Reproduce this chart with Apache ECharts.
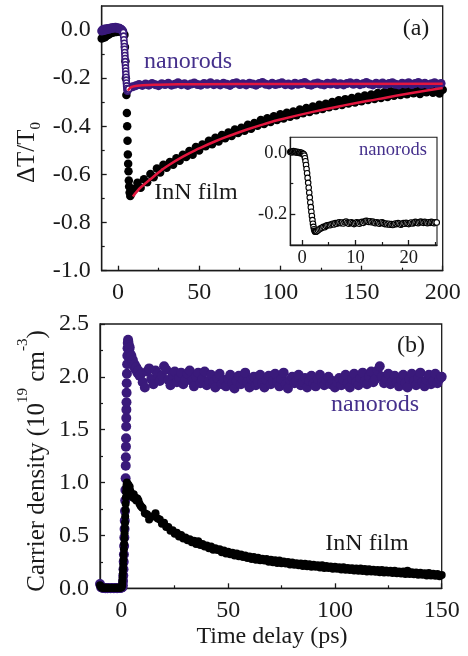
<!DOCTYPE html>
<html>
<head>
<meta charset="utf-8">
<title>InN film vs nanorods</title>
<script src="https://cdn.jsdelivr.net/npm/echarts@6/dist/echarts.min.js"></script>
<style>
  html, body { margin: 0; padding: 0; background: #fff; }
  #chart { width: 468px; height: 656px; }
</style>
</head>
<body>
<div id="chart"></div>
<script>
// ---- panel (a): ΔT/T0 ----
var aFilmPreT = [-10, -9, -8, -7, -6, -5, -4, -3, -2, -1, 0, 1, 2, 3];
var aFilmPreV = [-0.035, -0.032, -0.03, -0.024, -0.02, -0.015, -0.012, -0.01, -0.008, -0.008, -0.006, -0.006, -0.005, -0.008];
var aFilmDropT = [4.0, 4.3, 4.6, 4.9, 5.2, 5.5, 5.7, 5.9, 6.1, 6.3, 6.5, 6.7, 6.9, 7.2, 7.6, 8.2, 9.0];
var aFilmDropV = [-0.02, -0.07, -0.13, -0.2, -0.27, -0.345, -0.40, -0.46, -0.517, -0.556, -0.587, -0.625, -0.65, -0.675, -0.69, -0.68, -0.665];
// t = 10 .. 200, every 2 ps
var aFilmV = [
  -0.66, -0.635, -0.655, -0.62, -0.632, -0.598, -0.612, -0.575, -0.592, -0.56,
  -0.572, -0.548, -0.56, -0.533, -0.543, -0.518, -0.528, -0.503, -0.518, -0.486,
  -0.5, -0.476, -0.483, -0.46, -0.474, -0.448, -0.463, -0.436, -0.45, -0.426,
  -0.44, -0.413, -0.428, -0.406, -0.418, -0.393, -0.41, -0.386, -0.398, -0.374,
  -0.39, -0.366, -0.382, -0.358, -0.374, -0.35, -0.368, -0.344, -0.36, -0.338,
  -0.354, -0.33, -0.346, -0.324, -0.34, -0.318, -0.333, -0.31, -0.328, -0.306,
  -0.321, -0.299, -0.316, -0.292, -0.311, -0.287, -0.305, -0.282, -0.301, -0.277,
  -0.296, -0.272, -0.291, -0.268, -0.286, -0.262, -0.282, -0.258, -0.278, -0.254,
  -0.273, -0.249, -0.27, -0.245, -0.267, -0.241, -0.263, -0.239, -0.266, -0.237,
  -0.258, -0.233, -0.261, -0.237, -0.264, -0.248
];
// t = -10 .. 3, every 0.5 ps
var aRodPreV = [
  -0.004, 0.0, 0.003, -0.002, 0.002, 0.005, 0.001, 0.004, 0.006, 0.003,
  0.007, 0.009, 0.006, 0.01, 0.008, 0.011, 0.009, 0.012, 0.008, 0.01,
  0.007, 0.009, 0.006, 0.004, 0.003, 0.0, -0.005
];
var aRodDropT = [3.3, 3.5, 3.7, 3.9, 4.0, 4.1, 4.2, 4.3, 4.4, 4.5, 4.6, 4.7, 4.8, 4.9, 5.0, 5.1, 5.2, 5.35, 5.5, 5.7, 5.9, 6.2, 6.6];
var aRodDropV = [-0.01, -0.025, -0.04, -0.055, -0.068, -0.08, -0.093, -0.106, -0.118, -0.131, -0.144, -0.157, -0.17, -0.183, -0.196, -0.208, -0.22, -0.232, -0.243, -0.25, -0.254, -0.25, -0.245];
// t = 7 .. 199, every 2 ps
var aRodV = [
  -0.240, -0.236, -0.231, -0.226, -0.230, -0.224, -0.229, -0.222, -0.227, -0.231,
  -0.223, -0.226, -0.221, -0.229, -0.225, -0.219, -0.227, -0.223, -0.23, -0.224,
  -0.22, -0.226, -0.229, -0.222, -0.225, -0.219, -0.227, -0.223, -0.228, -0.221,
  -0.225, -0.23, -0.222, -0.219, -0.226, -0.223, -0.228, -0.221, -0.224, -0.229,
  -0.222, -0.218, -0.225, -0.228, -0.221, -0.226, -0.223, -0.219, -0.227, -0.224,
  -0.229, -0.221, -0.225, -0.222, -0.218, -0.226, -0.229, -0.223, -0.22, -0.225,
  -0.228, -0.221, -0.224, -0.219, -0.226, -0.223, -0.228, -0.222, -0.219, -0.225,
  -0.221, -0.227, -0.223, -0.218, -0.224, -0.228, -0.221, -0.225, -0.22, -0.226,
  -0.222, -0.219, -0.225, -0.228, -0.221, -0.224, -0.219, -0.226, -0.222, -0.218,
  -0.225, -0.221, -0.227, -0.223, -0.219, -0.225, -0.222
];
var aFilmFitT = [9.2, 12, 15, 20, 25, 30, 40, 50, 60, 70, 80, 90, 100, 120, 140, 160, 180, 200];
var aFilmFitV = [-0.692, -0.668, -0.648, -0.62, -0.592, -0.567, -0.526, -0.492, -0.462, -0.436, -0.412, -0.391, -0.372, -0.34, -0.312, -0.287, -0.263, -0.241];
var aRodFitT = [6.2, 7, 8, 9, 11, 15, 25, 50, 100, 200];
var aRodFitV = [-0.252, -0.244, -0.238, -0.235, -0.232, -0.229, -0.227, -0.225, -0.224, -0.223];

// ---- inset: nanorods, first 25 ps ----
// t = -2.2 .. 0.35, every 0.15 ps
var insPreV = [0.002, 0.004, 0.001, 0.003, 0.005, 0.002, 0.004, 0.001, 0.003, 0.0, 0.002, -0.001, 0.001, -0.002, 0.0, -0.003, -0.004, -0.006];
// t = 0.45 .. 2.65, every 0.1 ps
var insDropV = [-0.01, -0.018, -0.028, -0.04, -0.053, -0.067, -0.082, -0.098, -0.114, -0.13, -0.146, -0.162, -0.177, -0.192, -0.206, -0.219, -0.231, -0.241, -0.249, -0.254, -0.257, -0.257, -0.256];
// t = 2.75 .. 25.25, every 0.25 ps
var insV = [
  -0.255, -0.252, -0.249, -0.246, -0.244, -0.241, -0.242, -0.238, -0.236, -0.235,
  -0.236, -0.233, -0.231, -0.233, -0.229, -0.231, -0.228, -0.226, -0.229, -0.227,
  -0.23, -0.226, -0.224, -0.228, -0.231, -0.228, -0.226, -0.229, -0.232, -0.229,
  -0.226, -0.228, -0.231, -0.227, -0.225, -0.228, -0.224, -0.221, -0.222, -0.225,
  -0.223, -0.226, -0.224, -0.227, -0.229, -0.226, -0.228, -0.231, -0.228, -0.226,
  -0.229, -0.232, -0.23, -0.233, -0.231, -0.234, -0.232, -0.235, -0.233, -0.23,
  -0.232, -0.229, -0.231, -0.234, -0.232, -0.229, -0.231, -0.228, -0.23, -0.232,
  -0.229, -0.227, -0.23, -0.228, -0.225, -0.227, -0.229, -0.226, -0.224, -0.226,
  -0.228, -0.225, -0.227, -0.229, -0.226, -0.228, -0.225, -0.227, -0.229, -0.226,
  -0.227
];

// ---- panel (b): carrier density (1e19 cm^-3) ----
// t = -10 .. 0, every 0.5 ps
var bFilmPreV = [0.03, 0.012, 0.006, 0.004, 0.008, 0.003, 0.005, 0.002, 0.006, 0.004, 0.003, 0.005, 0.002, 0.004, 0.006, 0.003, 0.005, 0.002, 0.004, 0.006, 0.008];
var bFilmRiseT = [0.3, 0.4, 0.5, 0.6, 0.7, 0.8, 0.9, 1.0, 1.1, 1.2, 1.3, 1.4, 1.5, 1.6, 1.7, 1.8, 1.9, 2.0, 2.1, 2.2, 2.3, 2.45, 2.6, 2.8, 3.0, 3.3, 3.6, 3.9, 4.2, 4.6, 5.0, 5.4, 5.8, 6.2, 6.6, 7.0, 7.5, 8.0, 8.5, 9.0, 9.5];
var bFilmRiseV = [0.02, 0.04, 0.07, 0.1, 0.14, 0.18, 0.22, 0.27, 0.32, 0.37, 0.42, 0.47, 0.52, 0.57, 0.62, 0.68, 0.74, 0.8, 0.86, 0.91, 0.95, 0.98, 1.0, 0.99, 0.97, 0.98, 0.94, 0.96, 0.92, 0.9, 0.88, 0.86, 0.89, 0.85, 0.86, 0.83, 0.85, 0.83, 0.8, 0.78, 0.77];
// t = 10 .. 150, every 1 ps
var bFilmV = [
  0.76, 0.71, 0.70, 0.65, 0.68, 0.68, 0.71, 0.66, 0.65, 0.61,
  0.62, 0.58, 0.58, 0.545, 0.55, 0.515, 0.525, 0.49, 0.505, 0.47,
  0.48, 0.455, 0.465, 0.435, 0.45, 0.42, 0.445, 0.41, 0.42, 0.395,
  0.405, 0.38, 0.395, 0.365, 0.38, 0.362, 0.37, 0.342, 0.358, 0.33,
  0.345, 0.322, 0.336, 0.31, 0.328, 0.302, 0.32, 0.295, 0.31, 0.287,
  0.3, 0.278, 0.295, 0.27, 0.289, 0.265, 0.28, 0.263, 0.276, 0.252,
  0.27, 0.247, 0.265, 0.24, 0.262, 0.236, 0.253, 0.234, 0.248, 0.226,
  0.244, 0.222, 0.238, 0.219, 0.234, 0.212, 0.233, 0.208, 0.227, 0.205,
  0.222, 0.203, 0.218, 0.196, 0.217, 0.192, 0.21, 0.191, 0.207, 0.185,
  0.203, 0.184, 0.2, 0.178, 0.199, 0.175, 0.193, 0.174, 0.19, 0.169,
  0.188, 0.166, 0.187, 0.163, 0.182, 0.16, 0.181, 0.158, 0.176, 0.157,
  0.174, 0.152, 0.173, 0.15, 0.168, 0.149, 0.166, 0.144, 0.165, 0.142,
  0.16, 0.141, 0.158, 0.136, 0.165, 0.135, 0.152, 0.133, 0.15, 0.128,
  0.146, 0.127, 0.143, 0.121, 0.144, 0.12, 0.138, 0.119, 0.136, 0.114, 0.125
];
// t = -10 .. 0.5, every 0.5 ps
var bRodPreV = [0.04, 0.01, 0.005, 0.002, 0.004, 0.0, 0.003, 0.001, 0.002, 0.004, 0.0, 0.002, 0.003, 0.001, 0.004, 0.002, 0.0, 0.003, 0.002, 0.004, 0.005, 0.01];
var bRodRiseT = [0.7, 0.8, 0.9, 1.0, 1.1, 1.2, 1.3, 1.4, 1.5, 1.6, 1.7, 1.8, 1.9, 2.0, 2.05, 2.1, 2.15, 2.2, 2.25, 2.3, 2.35, 2.4, 2.45, 2.5, 2.6, 2.7, 2.8, 2.9, 3.0, 3.15, 3.3, 3.5, 3.7, 3.9, 4.1, 4.4, 4.7, 5.0, 5.4, 5.8, 6.2, 6.6, 7.0, 7.5, 8.0, 8.5];
var bRodRiseV = [0.03, 0.07, 0.12, 0.18, 0.25, 0.32, 0.4, 0.48, 0.56, 0.64, 0.73, 0.83, 0.93, 1.04, 1.16, 1.24, 1.34, 1.42, 1.53, 1.61, 1.69, 1.76, 1.85, 1.94, 2.03, 2.12, 2.2, 2.27, 2.32, 2.35, 2.33, 2.3, 2.26, 2.28, 2.22, 2.18, 2.2, 2.14, 2.16, 2.1, 2.12, 2.07, 2.09, 2.04, 2.06, 2.01];
// t = 9 .. 150, every 1 ps
var bRodV = [
  2.02, 1.95, 1.90, 2.05, 2.08, 1.98, 1.93, 2.06, 2.03, 1.96, 2.01, 2.1,
  2.07, 1.97, 1.92, 2.02, 2.05, 1.95, 1.99, 2.04, 1.93, 1.97,
  2.03, 2.06, 1.96, 1.91, 2.0, 2.04, 1.94, 1.98, 2.05, 1.92,
  1.96, 2.02, 1.95, 1.9, 1.99, 2.03, 1.93, 1.97, 1.91, 1.98,
  2.02, 1.94, 1.89, 1.96, 2.01, 1.93, 1.97, 2.04, 1.95, 1.9,
  1.98, 2.0, 1.92, 1.95, 2.02, 1.94, 1.9, 1.97, 2.01, 1.93,
  1.96, 2.03, 1.95, 1.91, 1.98, 2.04, 1.93, 1.89, 1.97, 2.0,
  1.94, 1.96, 2.02, 1.92, 1.95, 1.99, 1.9, 1.96, 2.01, 1.94,
  1.91, 1.98, 2.02, 1.95, 1.92, 1.97, 2.0, 1.93, 1.96, 1.9,
  1.95, 1.99, 1.92, 1.97, 2.02, 1.94, 1.9, 1.98, 2.03, 1.95,
  1.92, 1.99, 2.04, 1.96, 1.93, 2.0, 2.05, 1.95, 1.98, 2.06,
  2.1, 2.0, 1.94, 1.98, 2.03, 1.93, 1.96, 2.01, 1.95, 1.91,
  1.97, 2.02, 1.94, 1.9, 1.98, 2.03, 1.96, 1.92, 1.99, 2.04,
  1.95, 1.91, 1.97, 2.02, 1.93, 1.96, 2.03, 1.94, 1.98, 2.0
];

// tick values
var aTicksX = [0, 50, 100, 150, 200], aMinorX = [25, 75, 125, 175];
var aTicksY = [-1.0, -0.8, -0.6, -0.4, -0.2, 0.0], aMinorY = [-0.9, -0.7, -0.5, -0.3, -0.1];
var insTicksX = [0, 10, 20], insMinorX = [5, 15, 25];
var insTicksY = [-0.2, 0.0], insMinorY = [-0.1];
var bTicksX = [0, 50, 100, 150], bMinorX = [25, 75, 125];
var bTicksY = [0.0, 0.5, 1.0, 1.5, 2.0, 2.5], bMinorY = [0.25, 0.75, 1.25, 1.75, 2.25];

var FONT = "'Liberation Serif', 'Times New Roman', serif";
var INK = '#1a1a1a';
var PURPLE = '#3a1a7b';
var PURPLE_TEXT = '#45308c';
var RED = '#e3163e';

function pairs(ts, vs) {
  return vs.map(function (v, i) { return [ts[i], v]; });
}
function onGrid(t0, dt, vs) {
  return vs.map(function (v, i) { return [Math.round((t0 + i * dt) * 1000) / 1000, v]; });
}

// one axis with labelled ticks plus a silent twin for the minor ticks
function axisPair(kind, gridIndex, min, max, majors, minors, fontSize, margin) {
  var common = {
    gridIndex: gridIndex, type: 'value', min: min, max: max,
    position: kind === 'x' ? 'bottom' : 'left',
    splitLine: { show: false }
  };
  var major = Object.assign({}, common, {
    axisLine: { show: true, onZero: false, lineStyle: { color: INK, width: 1.3 } },
    axisTick: { show: true, inside: true, length: 5, customValues: majors, lineStyle: { color: INK, width: 1.3 } },
    axisLabel: {
      show: true, customValues: majors, margin: margin,
      fontSize: fontSize, fontFamily: FONT, color: INK,
      formatter: kind === 'y'
        ? function (v) { return v.toFixed(1); }
        : function (v) { return String(Math.round(v)); }
    }
  });
  var minor = Object.assign({}, common, {
    axisLine: { show: false, onZero: false },
    axisTick: { show: true, inside: true, length: 3, customValues: minors, lineStyle: { color: INK, width: 1.2 } },
    axisLabel: { show: false }
  });
  return [major, minor];
}

function label(txt, x, y, size, color) {
  return {
    type: 'text', x: x, y: y, silent: true,
    style: { text: txt, fontSize: size, fontFamily: FONT, fill: color, align: 'center', verticalAlign: 'middle' }
  };
}

var frame = { show: true, borderColor: INK, borderWidth: 1.3 };

var chart = echarts.init(document.getElementById('chart'));
var option = {
  animation: false,
  backgroundColor: '#fff',
  grid: [
    Object.assign({ left: 101.7, top: 6, width: 341, height: 264.7 }, frame),
    Object.assign({ left: 290.3, top: 137.3, width: 146.7, height: 107.7, backgroundColor: '#fff' }, frame, { borderWidth: 1.1 }),
    Object.assign({ left: 100, top: 324, width: 341.7, height: 264.3 }, frame)
  ],
  xAxis: [].concat(
    axisPair('x', 0, -10, 200, aTicksX, aMinorX, 24, 10),
    axisPair('x', 1, -2.2, 25.3, insTicksX, insMinorX, 18.5, 4),
    axisPair('x', 2, -10, 150, bTicksX, bMinorX, 24, 10)
  ),
  yAxis: [].concat(
    axisPair('y', 0, -1.0, 0.1, aTicksY, aMinorY, 24, 11),
    axisPair('y', 1, -0.3, 0.05, insTicksY, insMinorY, 18.5, 3),
    axisPair('y', 2, 0, 2.5, bTicksY, bMinorY, 24, 11)
  ),
  series: [
    {
      name: 'InN film (a)', type: 'scatter', xAxisIndex: 0, yAxisIndex: 0, z: 2,
      symbol: 'circle', symbolSize: 8.5, itemStyle: { color: '#000', opacity: 1 },
      data: [].concat(pairs(aFilmPreT, aFilmPreV), pairs(aFilmDropT, aFilmDropV), onGrid(10, 2, aFilmV))
    },
    {
      name: 'nanorods (a)', type: 'scatter', xAxisIndex: 0, yAxisIndex: 0, z: 3,
      symbol: 'circle', symbolSize: 9, itemStyle: { color: PURPLE, opacity: 1 },
      data: [].concat(onGrid(-10, 0.5, aRodPreV), onGrid(7, 2, aRodV))
    },
    {
      name: 'nanorods (a) drop', type: 'scatter', xAxisIndex: 0, yAxisIndex: 0, z: 3,
      symbol: 'circle', symbolSize: 6, itemStyle: { color: '#fff', borderColor: PURPLE, borderWidth: 1.6, opacity: 1 },
      data: pairs(aRodDropT, aRodDropV)
    },
    {
      name: 'fit film', type: 'line', xAxisIndex: 0, yAxisIndex: 0, z: 4,
      smooth: true, symbol: 'none', lineStyle: { color: RED, width: 2.5 },
      data: pairs(aFilmFitT, aFilmFitV)
    },
    {
      name: 'fit nanorods', type: 'line', xAxisIndex: 0, yAxisIndex: 0, z: 4,
      smooth: true, symbol: 'none', lineStyle: { color: RED, width: 2.5 },
      data: pairs(aRodFitT, aRodFitV)
    },
    {
      name: 'inset', type: 'scatter', xAxisIndex: 2, yAxisIndex: 2, z: 5,
      symbol: 'circle', symbolSize: 5.5, itemStyle: { color: '#fff', borderColor: '#000', borderWidth: 1.1, opacity: 1 },
      data: [].concat(onGrid(-2.2, 0.15, insPreV), onGrid(0.45, 0.1, insDropV), onGrid(2.75, 0.25, insV))
    },
    {
      name: 'nanorods (b)', type: 'scatter', xAxisIndex: 4, yAxisIndex: 4, z: 2,
      symbol: 'circle', symbolSize: 10, itemStyle: { color: PURPLE, opacity: 1 },
      data: [].concat(onGrid(-10, 0.5, bRodPreV), pairs(bRodRiseT, bRodRiseV), onGrid(9, 1, bRodV))
    },
    {
      name: 'InN film (b)', type: 'scatter', xAxisIndex: 4, yAxisIndex: 4, z: 3,
      symbol: 'circle', symbolSize: 8, itemStyle: { color: '#000', opacity: 1 },
      data: [].concat(onGrid(-10, 0.5, bFilmPreV), pairs(bFilmRiseT, bFilmRiseV), onGrid(10, 1, bFilmV))
    }
  ],
  graphic: [
    label('(a)', 416, 29, 24, INK),
    label('(b)', 411, 346, 24, INK),
    label('nanorods', 188, 62, 24, PURPLE_TEXT),
    label('InN film', 196, 193, 24, INK),
    label('nanorods', 393, 150, 18.5, PURPLE_TEXT),
    label('nanorods', 375, 405, 24, PURPLE_TEXT),
    label('InN film', 367, 544, 24, INK),
    label('Time delay (ps)', 272, 637, 24, INK),
    {
      type: 'text', x: 27, y: 152.5, rotation: Math.PI / 2, silent: true,
      style: {
        text: '{m|ΔT/T}{s|0}', align: 'center', verticalAlign: 'middle',
        rich: {
          m: { fontSize: 25, fontFamily: FONT, fill: INK, lineHeight: 34 },
          s: { fontSize: 15, fontFamily: FONT, fill: INK, lineHeight: 15, verticalAlign: 'bottom' }
        }
      }
    },
    {
      type: 'text', x: 37, y: 461, rotation: Math.PI / 2, silent: true,
      style: {
        text: '{m|Carrier density (10}{p|19}{m| cm}{p|-3}{m|)}', align: 'center', verticalAlign: 'middle',
        rich: {
          m: { fontSize: 25, fontFamily: FONT, fill: INK, lineHeight: 42 },
          p: { fontSize: 15, fontFamily: FONT, fill: INK, lineHeight: 15, verticalAlign: 'top' }
        }
      }
    }
  ]
};
chart.setOption(option);
</script>
</body>
</html>
